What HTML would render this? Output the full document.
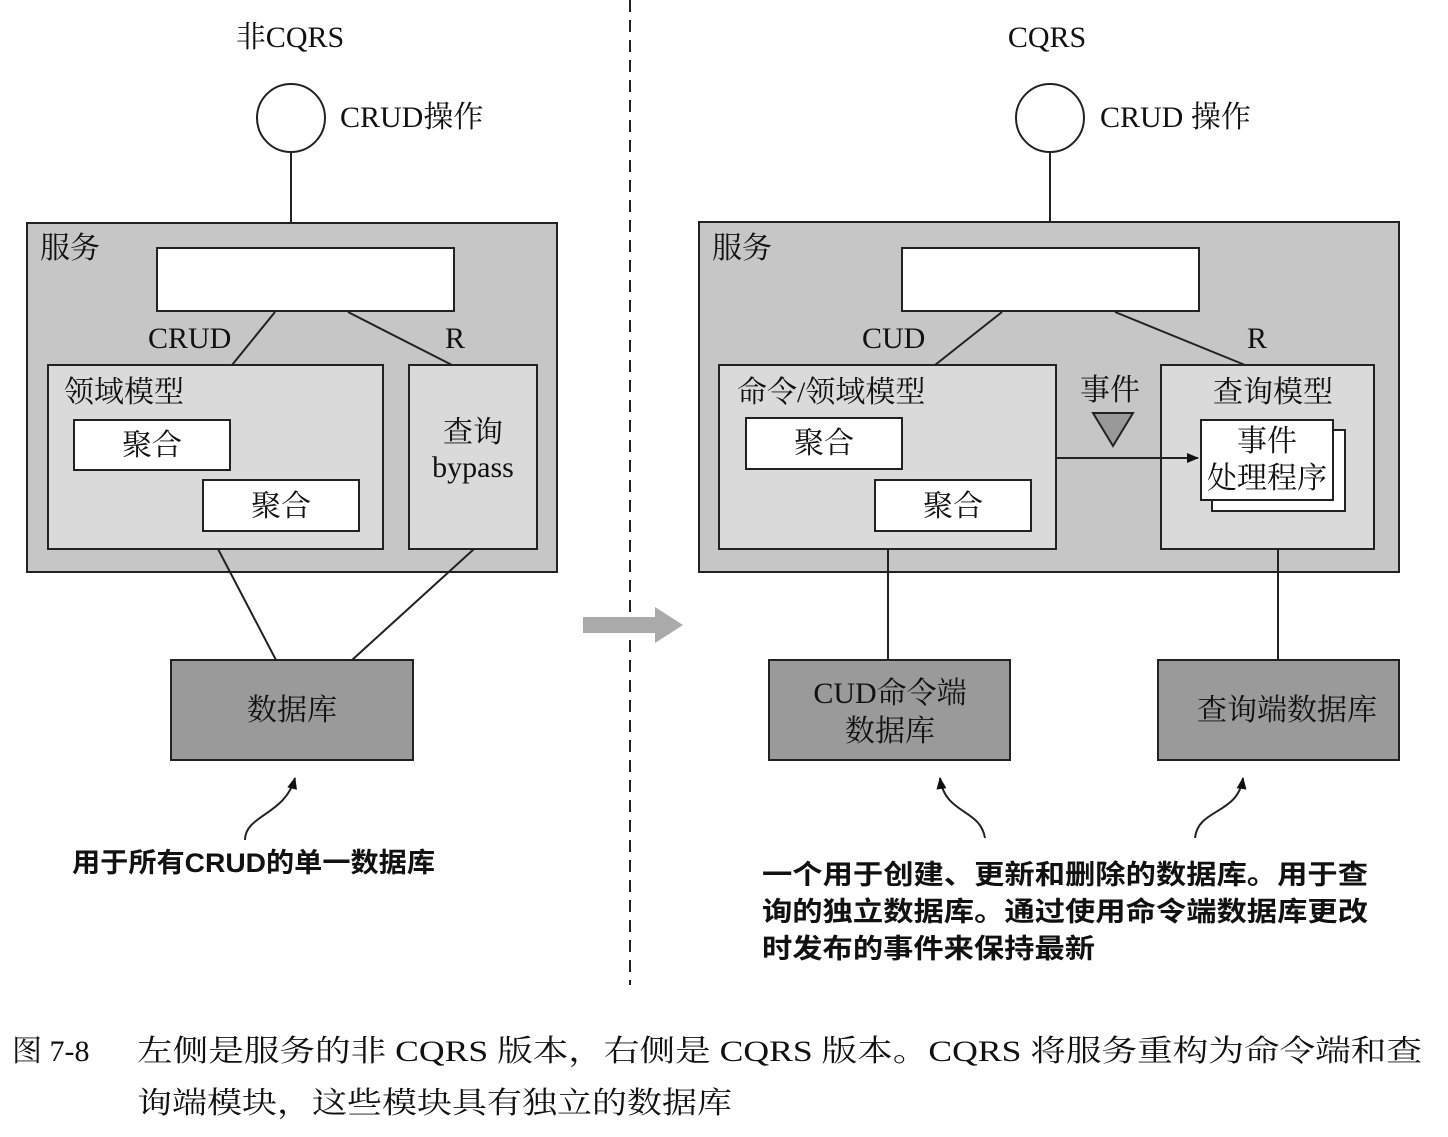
<!DOCTYPE html>
<html><head><meta charset="utf-8"><style>
html,body{margin:0;padding:0;background:#fff}
svg text{font-family:"Liberation Serif","Noto Serif CJK SC",serif;fill:#111}
.s{font-family:"Liberation Sans","Noto Sans CJK SC",sans-serif !important;font-weight:bold}
</style></head><body>
<svg width="1448" height="1132" viewBox="0 0 1448 1132" xmlns="http://www.w3.org/2000/svg">
<defs>
<marker id="ah" markerWidth="12" markerHeight="10" refX="11" refY="5" orient="auto" markerUnits="userSpaceOnUse"><path d="M0,0 L12,5 L0,10 z" fill="#111"/></marker>
</defs>
<g stroke="#222" stroke-width="2" fill="none">
<circle cx="291" cy="118" r="34" fill="#fff"/>
<line x1="291" y1="152" x2="291" y2="223"/>
<rect x="27" y="223" width="530" height="349" fill="#c6c6c6"/>
<rect x="157" y="248" width="297" height="63" fill="#fff"/>
<line x1="275" y1="312" x2="232" y2="365"/>
<line x1="348" y1="312" x2="452" y2="365"/>
<rect x="48" y="365" width="335" height="184" fill="#dadada"/>
<rect x="74" y="420" width="156" height="50" fill="#fff"/>
<rect x="203" y="480" width="156" height="51" fill="#fff"/>
<rect x="409" y="365" width="128" height="184" fill="#dadada"/>
<line x1="218" y1="549" x2="276" y2="660"/>
<line x1="474" y1="549" x2="352" y2="660"/>
<rect x="171" y="660" width="242" height="100" fill="#9a9a9a"/>
<path d="M245,840 C245,815 285,815 295,778" marker-end="url(#ah)"/>
<line x1="630" y1="0" x2="630" y2="985" stroke-dasharray="12,8"/>
<circle cx="1050" cy="118" r="34" fill="#fff"/>
<line x1="1050" y1="152" x2="1050" y2="222"/>
<rect x="699" y="222" width="700" height="350" fill="#c6c6c6"/>
<rect x="902" y="248" width="297" height="63" fill="#fff"/>
<line x1="1002" y1="312" x2="935" y2="365"/>
<line x1="1115" y1="312" x2="1245" y2="365"/>
<rect x="719" y="365" width="337" height="184" fill="#dadada"/>
<rect x="746" y="418" width="156" height="51" fill="#fff"/>
<rect x="875" y="480" width="156" height="51" fill="#fff"/>
<rect x="1161" y="365" width="213" height="184" fill="#dadada"/>
<rect x="1212" y="430" width="133" height="81" fill="#fff"/>
<rect x="1201" y="420" width="132" height="80" fill="#fff"/>
<line x1="1056" y1="458" x2="1198" y2="458" marker-end="url(#ah)"/>
<polygon points="1093,413 1133,413 1113,446" fill="#999"/>
<line x1="888" y1="549" x2="888" y2="660"/>
<line x1="1278" y1="549" x2="1278" y2="660"/>
<rect x="769" y="660" width="241" height="100" fill="#9a9a9a"/>
<rect x="1158" y="660" width="241" height="100" fill="#9a9a9a"/>
<path d="M985,838 C980,808 945,815 940,778" marker-end="url(#ah)"/>
<path d="M1195,838 C1198,808 1238,815 1243,778" marker-end="url(#ah)"/>
</g>
<polygon points="583,617 655,617 655,607 683,625 655,643 655,633 583,633" fill="#aaa"/>
<g font-size="30">
<text x="290" y="47" text-anchor="middle">非CQRS</text>
<text x="340" y="127">CRUD操作</text>
<text x="40" y="258">服务</text>
<text x="148" y="348">CRUD</text>
<text x="445" y="348">R</text>
<text x="64" y="402">领域模型</text>
<text x="152" y="455" text-anchor="middle">聚合</text>
<text x="281" y="516" text-anchor="middle">聚合</text>
<text x="473" y="442" text-anchor="middle">查询</text>
<text x="473" y="477" text-anchor="middle">bypass</text>
<text x="292" y="720" text-anchor="middle">数据库</text>
<text x="1047" y="47" text-anchor="middle">CQRS</text>
<text x="1100" y="127">CRUD 操作</text>
<text x="712" y="258">服务</text>
<text x="862" y="348">CUD</text>
<text x="1247" y="348">R</text>
<text x="737" y="402">命令/领域模型</text>
<text x="824" y="453" text-anchor="middle">聚合</text>
<text x="953" y="516" text-anchor="middle">聚合</text>
<text x="1110" y="400" text-anchor="middle">事件</text>
<text x="1273" y="402" text-anchor="middle">查询模型</text>
<text x="1267" y="451" text-anchor="middle">事件</text>
<text x="1267" y="488" text-anchor="middle">处理程序</text>
<text x="890" y="703" text-anchor="middle">CUD命令端</text>
<text x="890" y="741" text-anchor="middle">数据库</text>
<text x="1287" y="720" text-anchor="middle">查询端数据库</text>
</g>
<g font-size="27">
<text class="s" x="72" y="872" textLength="363" lengthAdjust="spacingAndGlyphs">用于所有CRUD的单一数据库</text>
<text class="s" x="762" y="884" textLength="606" lengthAdjust="spacingAndGlyphs">一个用于创建、更新和删除的数据库。用于查</text>
<text class="s" x="762" y="921" textLength="606" lengthAdjust="spacingAndGlyphs">询的独立数据库。通过使用命令端数据库更改</text>
<text class="s" x="762" y="958" textLength="333" lengthAdjust="spacingAndGlyphs">时发布的事件来保持最新</text>
</g>
<g font-size="30">
<text x="12" y="1061">图 7-8</text>
<text x="137" y="1061" textLength="1285" lengthAdjust="spacingAndGlyphs">左侧是服务的非 CQRS 版本，右侧是 CQRS 版本。CQRS 将服务重构为命令端和查</text>
<text x="137" y="1113" textLength="595" lengthAdjust="spacingAndGlyphs">询端模块，这些模块具有独立的数据库</text>
</g>
</svg>
</body></html>
